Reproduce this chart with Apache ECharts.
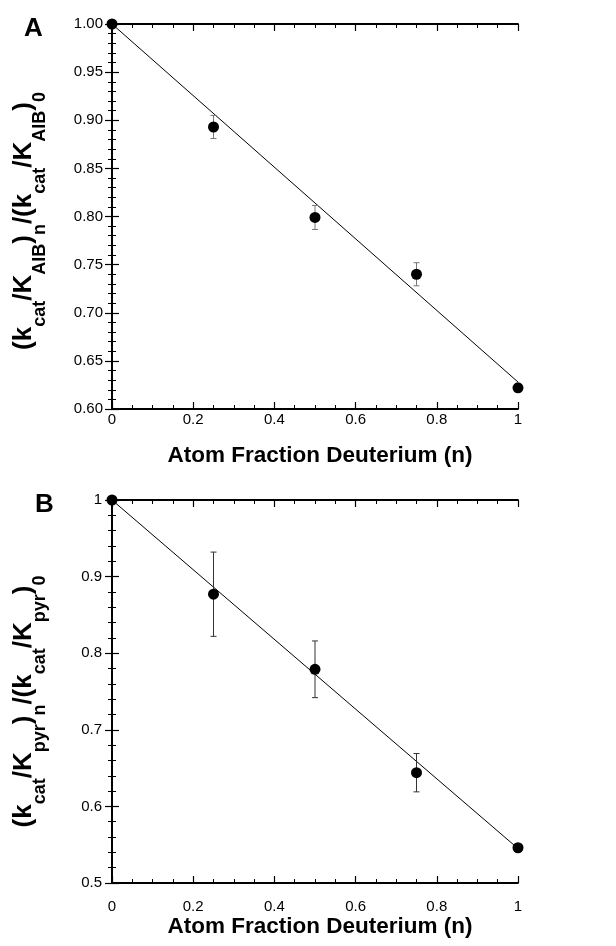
<!DOCTYPE html>
<html>
<head>
<meta charset="utf-8">
<script src="https://cdn.jsdelivr.net/npm/echarts@6/dist/echarts.min.js"></script>
<style>
html,body{margin:0;padding:0;background:#fff;}
#chart{width:616px;height:946px;}
</style>
</head>
<body>
<div id="chart"></div>
<script>
// ---- data ----
const atomFraction = [0, 0.25, 0.5, 0.75, 1.0];
const ratioAIB = [1.000, 0.893, 0.799, 0.740, 0.622];
const errAIB = [0, 0.012, 0.0125, 0.012, 0];
const fitAIBx = [0, 1];
const fitAIBy = [1.000, 0.628];

const ratioPyr = [1.000, 0.877, 0.779, 0.644, 0.546];
const errPyr = [0, 0.055, 0.037, 0.025, 0];
const fitPyrx = [0, 1];
const fitPyry = [1.000, 0.545];

const xTicks = { min: 0, max: 1, interval: 0.2 };
const yTicksA = { min: 0.60, max: 1.00, interval: 0.05 };
const yTicksB = { min: 0.5, max: 1.0, interval: 0.1 };

const xTitle = 'Atom Fraction Deuterium (n)';
const yTitleA = '{m|(k}{s|cat}{m|/K}{s|AIB}{m|)}{s|n}{m|/(k}{s|cat}{m|/K}{s|AIB}{m|)}{s|0}';
const yTitleB = '{m|(k}{s|cat}{m|/K}{s|pyr}{m|)}{s|n}{m|/(k}{s|cat}{m|/K}{s|pyr}{m|)}{s|0}';

// ---- styling helpers ----
const FONT = '"Liberation Sans", Arial, Helvetica, sans-serif';
const axisLine = { show: true, lineStyle: { color: '#000', width: 1.8 } };
const mkTick = () => ({ show: true, inside: true, length: 7, lineStyle: { color: '#000', width: 1.2 } });
const minorTick = (n) => ({ show: true, splitNumber: n, length: 4, lineStyle: { color: '#000', width: 1 } });
const richTitle = {
  m: { fontSize: 26, fontWeight: 'bold', fontFamily: FONT, color: '#000', lineHeight: 26, verticalAlign: 'top' },
  s: { fontSize: 18, fontWeight: 'bold', fontFamily: FONT, color: '#000', lineHeight: 18, verticalAlign: 'top', padding: [20, 0, 0, 0] }
};

function xAxisPair(grid, labelMargin, nameGap) {
  return [
    {
      gridIndex: grid, type: 'value', position: 'bottom',
      min: xTicks.min, max: xTicks.max, interval: xTicks.interval,
      axisLine, axisTick: mkTick(), minorTick: minorTick(4),
      splitLine: { show: false }, minorSplitLine: { show: false },
      axisLabel: {
        fontSize: 15, fontFamily: FONT, color: '#000', margin: labelMargin,
        formatter: v => (Math.abs(v) < 1e-9 ? '0' : Math.abs(v - 1) < 1e-9 ? '1' : v.toFixed(1))
      },
      name: xTitle, nameLocation: 'middle', nameGap: nameGap,
      nameTextStyle: { fontSize: 22.5, fontWeight: 'bold', fontFamily: FONT, color: '#000', padding: [0, 0, 0, 10] }
    },
    {
      gridIndex: grid, type: 'value', position: 'top',
      min: xTicks.min, max: xTicks.max, interval: xTicks.interval,
      axisLine, axisTick: mkTick(), minorTick: minorTick(4),
      splitLine: { show: false }, minorSplitLine: { show: false },
      axisLabel: { show: false }
    }
  ];
}

function yAxisPair(grid, ticks, minorN, fmt, title, nameGap, labelMargin, shift) {
  return [
    {
      gridIndex: grid, type: 'value', position: 'left',
      min: ticks.min, max: ticks.max, interval: ticks.interval,
      axisLine, axisTick: mkTick(), minorTick: minorTick(minorN),
      splitLine: { show: false }, minorSplitLine: { show: false },
      axisLabel: { fontSize: 15, fontFamily: FONT, color: '#000', margin: labelMargin, formatter: fmt },
      name: title, nameLocation: 'middle', nameRotate: 90, nameGap: nameGap,
      nameTextStyle: { rich: richTitle, padding: [0, shift, 0, 0] }
    },
    {
      gridIndex: grid, type: 'value', position: 'right',
      min: ticks.min, max: ticks.max, interval: ticks.interval,
      axisLine, axisTick: mkTick(), minorTick: minorTick(minorN),
      splitLine: { show: false }, minorSplitLine: { show: false },
      axisLabel: { show: false }
    }
  ];
}

function errorSeries(xi, yi, ratio, err, color) {
  const data = [];
  atomFraction.forEach((x, i) => { if (err[i] > 0) data.push([x, ratio[i] - err[i], ratio[i] + err[i]]); });
  return {
    type: 'custom', xAxisIndex: xi, yAxisIndex: yi, silent: true, z: 3,
    renderItem: (params, api) => {
      const x = api.value(0);
      const lo = api.coord([x, api.value(1)]);
      const hi = api.coord([x, api.value(2)]);
      const w = 3;
      const st = { stroke: color, lineWidth: 1 };
      return {
        type: 'group',
        children: [
          { type: 'line', shape: { x1: lo[0], y1: lo[1], x2: hi[0], y2: hi[1] }, style: st },
          { type: 'line', shape: { x1: lo[0] - w, y1: lo[1], x2: lo[0] + w, y2: lo[1] }, style: st },
          { type: 'line', shape: { x1: hi[0] - w, y1: hi[1], x2: hi[0] + w, y2: hi[1] }, style: st }
        ]
      };
    },
    data
  };
}

function fitSeries(xi, yi, fx, fy) {
  return {
    type: 'line', xAxisIndex: xi, yAxisIndex: yi, silent: true, z: 2,
    symbol: 'none', lineStyle: { color: '#000', width: 1 },
    data: fx.map((x, i) => [x, fy[i]])
  };
}

function pointSeries(xi, yi, ratio) {
  return {
    type: 'scatter', xAxisIndex: xi, yAxisIndex: yi, silent: true, z: 4, clip: false,
    symbol: 'circle', symbolSize: 11, itemStyle: { color: '#000', opacity: 1 },
    data: atomFraction.map((x, i) => [x, ratio[i]])
  };
}

const chart = echarts.init(document.getElementById('chart'), null, { renderer: 'canvas' });
chart.setOption({
  animation: false,
  backgroundColor: '#fff',
  title: [
    { text: 'A', left: 19, top: 11, textStyle: { fontSize: 26, fontWeight: 'bold', fontFamily: FONT, color: '#000' } },
    { text: 'B', left: 30, top: 487, textStyle: { fontSize: 26, fontWeight: 'bold', fontFamily: FONT, color: '#000' } }
  ],
  grid: [
    { left: 112, top: 24, width: 406, height: 385 },
    { left: 112, top: 500, width: 406, height: 383 }
  ],
  xAxis: [...xAxisPair(0, 3, 35), ...xAxisPair(1, 16, 30)],
  yAxis: [
    ...yAxisPair(0, yTicksA, 5, v => v.toFixed(2), yTitleA, 75, 9, 9),
    ...yAxisPair(1, yTicksB, 5, v => (Math.abs(v - 1) < 1e-9 ? '1' : v.toFixed(1)), yTitleB, 75, 10, 20)
  ],
  series: [
    fitSeries(0, 0, fitAIBx, fitAIBy),
    errorSeries(0, 0, ratioAIB, errAIB, '#777'),
    pointSeries(0, 0, ratioAIB),
    fitSeries(2, 2, fitPyrx, fitPyry),
    errorSeries(2, 2, ratioPyr, errPyr, '#333'),
    pointSeries(2, 2, ratioPyr)
  ]
});
</script>
</body>
</html>
